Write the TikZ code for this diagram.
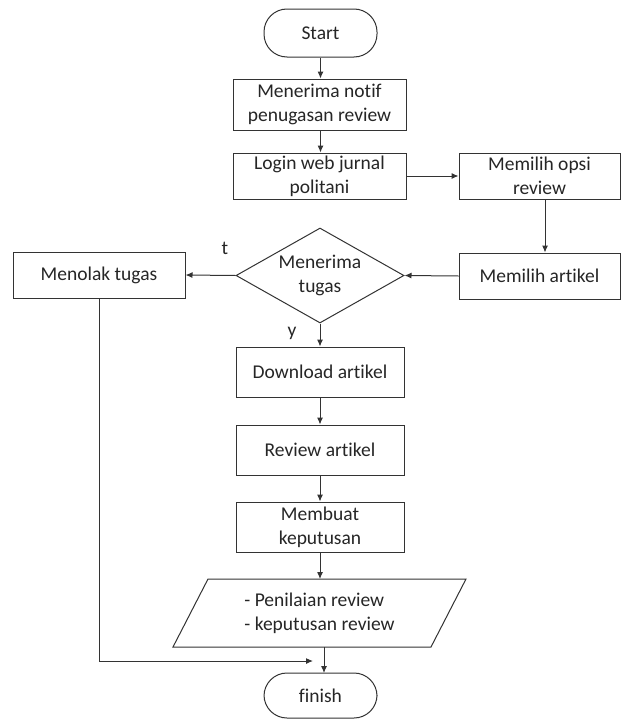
\documentclass[tikz,border=0pt]{standalone}
\usepackage{fontspec}
\setmainfont[Ligatures={NoCommon}]{Carlito}
\usetikzlibrary{arrows.meta,shapes.geometric}
\definecolor{ln}{HTML}{333333}
\definecolor{tx}{HTML}{262626}
\begin{document}
\begin{tikzpicture}[x=1pt,y=-1pt,
  every node/.style={font=\fontsize{19.5}{24}\selectfont, text=tx},
  box/.style={draw=ln, line width=1pt, rectangle, inner sep=0pt, align=center},
  term/.style={draw=ln, line width=1pt, rectangle, rounded corners=23pt, inner sep=0pt, minimum width=113pt},
  arr/.style={draw=ln, line width=1pt, -{Latex[length=7pt,width=6pt]}},
  ln/.style={draw=ln, line width=1pt}]
\useasboundingbox (0,0) rectangle (621,720);
\fill[white] (0,0) rectangle (621,720);

\node[term, minimum height=48pt] (start) at (320.5,33) {Start};
\node[box, minimum width=173pt, minimum height=51pt] (notif) at (319.5,104.5) {Menerima notif\\penugasan review};
\node[box, minimum width=173pt, minimum height=46pt] (login) at (319.5,176) {Login web jurnal\\politani};
\node[box, minimum width=161pt, minimum height=46pt] (opsi) at (539.5,176) {Memilih opsi\\review};
\node[box, minimum width=161pt, minimum height=46pt] (artikel) at (539.5,276) {Memilih artikel};
\node[draw=ln, line width=1pt, diamond, inner sep=0pt, minimum width=168pt, minimum height=95pt] (dec) at (320,275.5) {};
\node[align=center] (dectext) at (dec.center) {Menerima\\tugas};
\node[box, minimum width=172pt, minimum height=46pt] (tolak) at (99,275) {Menolak tugas};
\node[box, minimum width=168pt, minimum height=50pt] (download) at (320,372) {Download artikel};
\node[box, minimum width=168pt, minimum height=50pt] (review) at (320,450) {Review artikel};
\node[box, minimum width=168pt, minimum height=50pt] (buat) at (320,527) {Membuat\\keputusan};
\draw[ln] (208,579) -- (466,579) -- (431,647) -- (173,647) -- cycle;
\node[align=left] (out) at (319.5,613) {- Penilaian review\\- keputusan review};
\coordinate (outtop) at (320,579);
\coordinate (outbot) at (324,647);
\node[term, minimum height=45pt] (finish) at (320.5,695.5) {finish};
\coordinate (fin-in) at (324,673);
\coordinate (corner) at (99,661);
\coordinate (join) at (313,661);

\node (t) at (225,248) {t};
\node (y) at (292,333) {y};

\draw[arr] (start) -- (start.south |- notif.north);
\draw[arr] (notif.south -| start.south) -- (start.south |- login.north);
\draw[arr] (login) -- (opsi);
\draw[arr] ([xshift=5.5pt]opsi.south) -- ([xshift=5.5pt]artikel.north);
\draw[arr] (artikel.west) -- (dec.east);
\draw[arr] (dec.west) -- (tolak.east);
\draw[arr] (dec.south) -- (download.north);
\draw[arr] (download) -- (review);
\draw[arr] (review) -- (buat);
\draw[arr] (buat.south) -- (outtop);
\draw[arr] (outbot) -- (fin-in);
\draw[arr] (tolak.south) -- (corner) -- (join);
\end{tikzpicture}
\end{document}
